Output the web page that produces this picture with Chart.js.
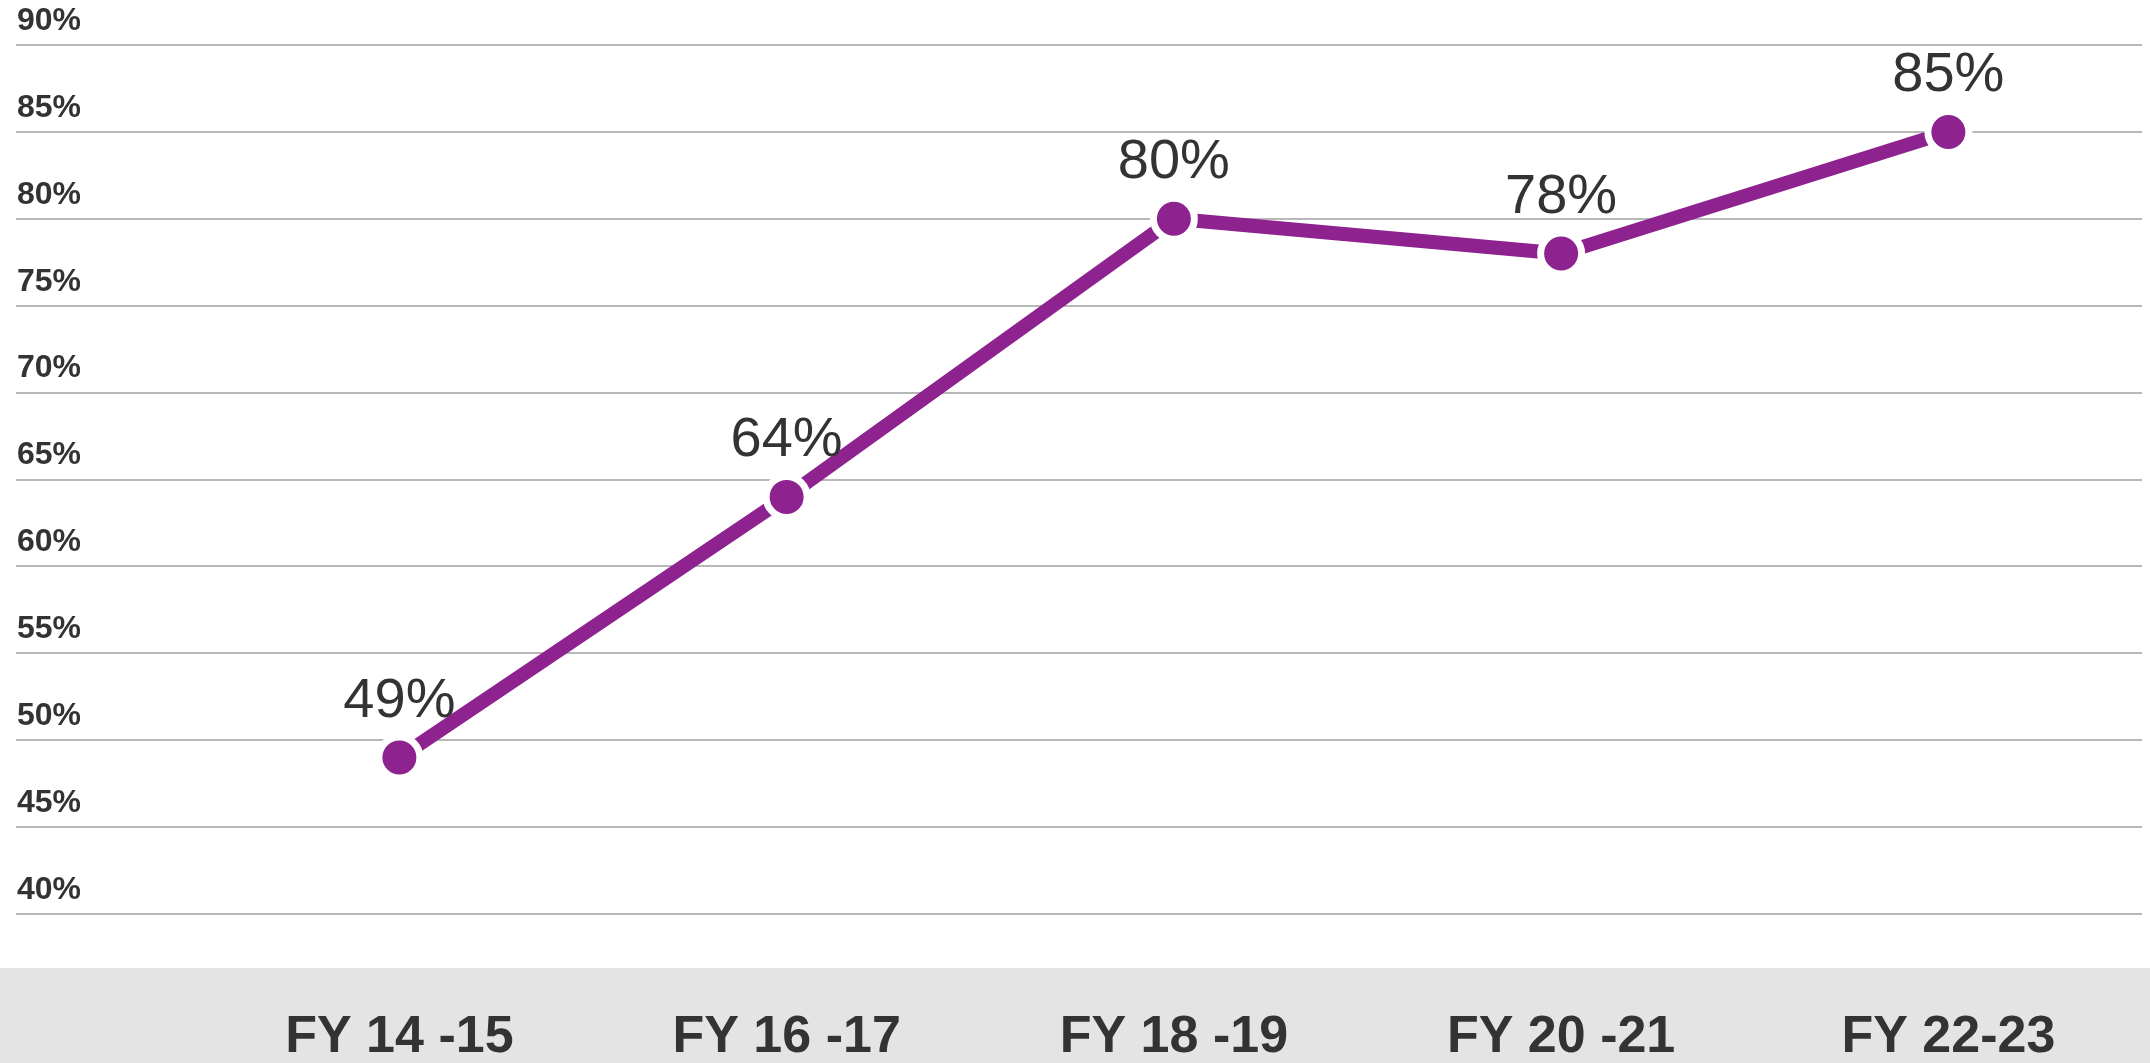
<!DOCTYPE html>
<html lang="en">
<head>
    <meta charset="UTF-8">
    <title>FY trend</title>
    <style>
        body {
            margin: 0;
            background: #fff;
        }

        #wrap {
            width: 2150px;
            height: 1063px;
            position: relative;
        }
    </style>
</head>
<body>
    <div id="wrap"><canvas id="trendChart"></canvas></div>

    <script src="https://cdn.jsdelivr.net/npm/chart.js@4.4.3/dist/chart.umd.min.js"></script>
    <script>
        // fiscal year start, used as x position
        const fiscalYears = [14, 16, 18, 20, 22];
        const yearLabels = ['FY 14 -15', 'FY 16 -17', 'FY 18 -19', 'FY 20 -21', 'FY 22-23'];
        const percentValues = [49, 64, 80, 78, 85];
        const yTicks = [40, 45, 50, 55, 60, 65, 70, 75, 80, 85, 90];

        const purple = '#8e2390';
        const textColor = '#333333';

        // grey strip behind the year labels
        const bandPlugin = {
            id: 'band',
            beforeDraw(chart) {
                const ctx = chart.ctx;
                const top = chart.scales.x.top + 54;
                ctx.save();
                ctx.fillStyle = '#e4e4e4';
                ctx.fillRect(0, top, chart.width, chart.height - top);
                ctx.restore();
            }
        };

        // value labels above each point
        const valueLabels = {
            id: 'valueLabels',
            afterDatasetsDraw(chart) {
                const ctx = chart.ctx;
                const meta = chart.getDatasetMeta(0);
                ctx.save();
                ctx.font = '56px "Liberation Sans", Arial, sans-serif';
                ctx.fillStyle = textColor;
                ctx.textAlign = 'center';
                ctx.textBaseline = 'alphabetic';
                meta.data.forEach((pt, i) => {
                    ctx.fillText(percentValues[i] + '%', pt.x, pt.y - 41);
                });
                ctx.restore();
            }
        };

        new Chart(document.getElementById('trendChart'), {
            type: 'line',
            data: {
                datasets: [{
                    data: fiscalYears.map((yr, i) => ({ x: yr, y: percentValues[i] })),
                    borderColor: purple,
                    borderWidth: 14,
                    tension: 0,
                    pointRadius: 20.5,
                    pointBorderWidth: 7,
                    pointBorderColor: '#ffffff',
                    pointBackgroundColor: purple,
                    fill: false
                }]
            },
            options: {
                responsive: true,
                maintainAspectRatio: false,
                animation: false,
                events: [],
                // tall label line pushes the year labels down; axis runs past the bottom edge
                layout: { autoPadding: false, padding: { top: 45, left: 16, right: 8, bottom: -99 } },
                plugins: {
                    legend: { display: false },
                    tooltip: { enabled: false }
                },
                scales: {
                    x: {
                        type: 'linear',
                        min: 12.02,
                        max: 23,
                        grid: { display: false, drawTicks: false },
                        border: { display: false },
                        afterFit: scale => {
                            // labels sit well inside, no side padding needed
                            scale.paddingLeft = 0;
                            scale.paddingRight = 0;
                        },
                        ticks: {
                            stepSize: 2,
                            includeBounds: false,
                            autoSkip: false,
                            maxRotation: 0,
                            padding: 5,
                            color: textColor,
                            font: { family: '"Liberation Sans", Arial, sans-serif', size: 52, weight: 'bold', lineHeight: 238 / 52 },
                            callback: value => {
                                const i = fiscalYears.indexOf(value);
                                return i >= 0 ? yearLabels[i] : '';
                            }
                        }
                    },
                    y: {
                        min: yTicks[0],
                        max: yTicks[yTicks.length - 1],
                        grid: { color: '#b8b8b8', lineWidth: 2, drawTicks: false },
                        border: { display: false },
                        afterBuildTicks: scale => {
                            scale.ticks = yTicks.map(v => ({ value: v }));
                        },
                        afterFit: scale => {
                            scale.width = 0;
                        },
                        ticks: {
                            mirror: true,
                            padding: 1,
                            labelOffset: -24,
                            color: textColor,
                            font: { family: '"Liberation Sans", Arial, sans-serif', size: 32, weight: 'bold' },
                            callback: value => value + '%'
                        }
                    }
                }
            },
            plugins: [bandPlugin, valueLabels]
        });
    </script>
</body>
</html>
